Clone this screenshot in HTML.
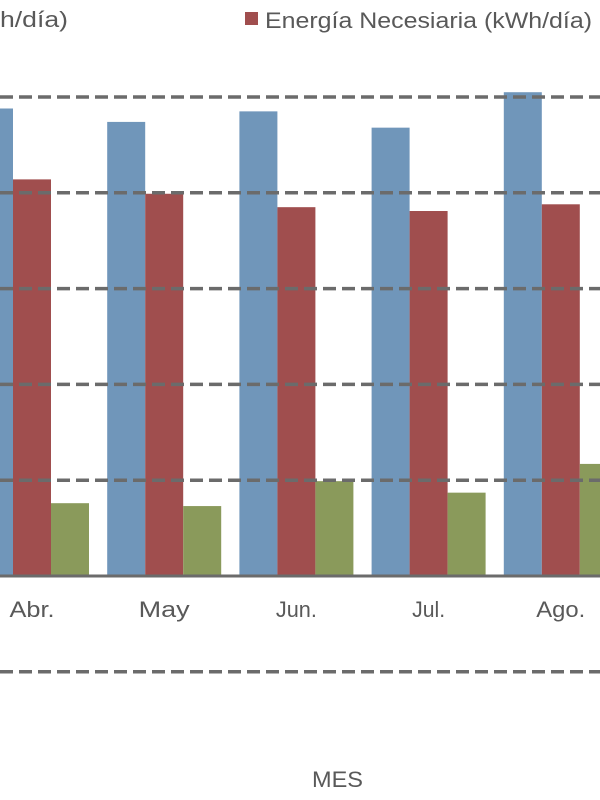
<!DOCTYPE html>
<html><head><meta charset="utf-8"><style>
html,body{margin:0;padding:0;background:#fff;width:600px;height:800px;overflow:hidden}
svg{display:block}
text{font-family:"Liberation Sans",sans-serif;fill:#595959}
</style></head><body>
<svg id="chart" width="600" height="800" viewBox="0 0 600 800" xmlns="http://www.w3.org/2000/svg">
<g id="bars"></g>
<g id="grid"></g>
<g id="xlabels"></g>
<text x="0" y="27" font-size="22" textLength="68" lengthAdjust="spacingAndGlyphs">h/día)</text>
<rect x="245" y="12" width="13" height="13" fill="#a04e4e"/>
<text x="265" y="28" font-size="22" textLength="327" lengthAdjust="spacingAndGlyphs">Energía Necesiaria (kWh/día)</text>
<text x="312" y="787" font-size="22" textLength="51" lengthAdjust="spacingAndGlyphs">MES</text>
</svg>
<script>
const categories = ["Abr.","May","Jun.","Jul.","Ago."];
const seriesBlue = [4.88,4.74,4.85,4.68,5.05];
const seriesRed = [4.14,3.99,3.85,3.81,3.88];
const seriesGreen = [0.76,0.73,0.99,0.87,1.17];
const gridValues = [-1,1,2,3,4,5];
const labelWidths=[45,51,41,33,49];
const NS="http://www.w3.org/2000/svg";
const y0=576, unit=95.8, bw=38;
function y(v){return y0-v*unit;}
function xc(i){return 32+i*132.2;}
const bars=document.getElementById('bars');
const series=[[seriesBlue,"#7096ba",-1,"blue"],[seriesRed,"#a04e4e",0,"red"],[seriesGreen,"#8a9a5b",1,"green"]];
series.forEach(s=>{
  s[0].forEach((v,i)=>{
    const r=document.createElementNS(NS,'rect');
    const x=xc(i)+s[2]*bw-bw/2;
    r.setAttribute('x',x);r.setAttribute('y',y(v));
    r.setAttribute('width',bw);r.setAttribute('height',y0-y(v));
    r.setAttribute('fill',s[1]);
    
    
    bars.appendChild(r);
  });
});
const grid=document.getElementById('grid');
gridValues.forEach(v=>{
  const l=document.createElementNS(NS,'line');
  l.setAttribute('x1',0);l.setAttribute('x2',600);
  l.setAttribute('y1',y(v));l.setAttribute('y2',y(v));
  l.setAttribute('stroke','#6b6b6b');l.setAttribute('stroke-width','3.5');
  l.setAttribute('stroke-dasharray','13 6');
  
  
  grid.appendChild(l);
});
const ax=document.createElementNS(NS,'line');
ax.setAttribute('x1',0);ax.setAttribute('x2',600);ax.setAttribute('y1',y0);ax.setAttribute('y2',y0);
ax.setAttribute('stroke','#6b6b6b');ax.setAttribute('stroke-width','3');


grid.appendChild(ax);
const xl=document.getElementById('xlabels');
categories.forEach((c,i)=>{
  const t=document.createElementNS(NS,'text');
  t.setAttribute('x',xc(i));t.setAttribute('y',617);
  t.setAttribute('font-size','22');t.setAttribute('text-anchor','middle');
  t.setAttribute('textLength',labelWidths[i]);t.setAttribute('lengthAdjust','spacingAndGlyphs');
  t.textContent=c;
  
  
  xl.appendChild(t);
});
</script>
</body></html>
